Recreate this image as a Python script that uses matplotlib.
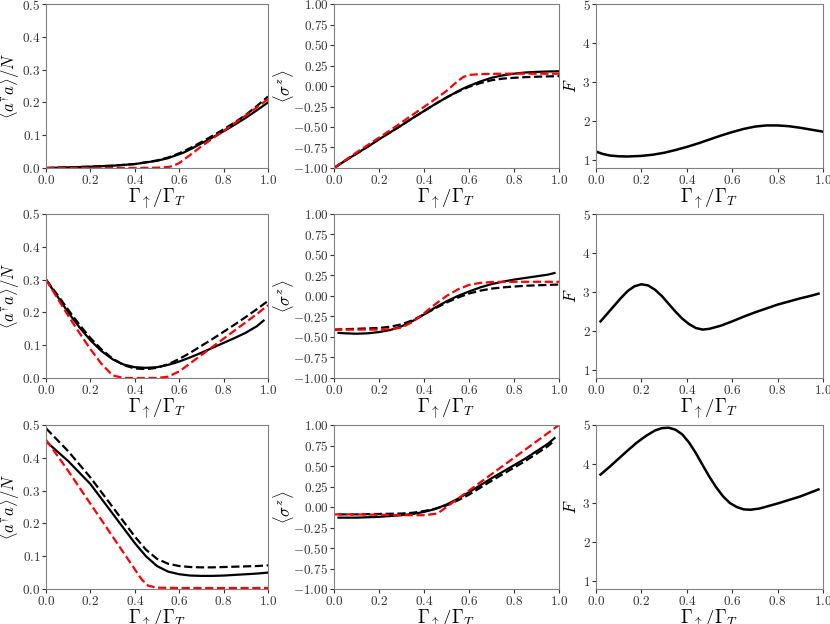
import matplotlib
matplotlib.use("Agg")
import matplotlib.pyplot as plt

plt.rcParams['mathtext.fontset'] = 'cm'
plt.rcParams['font.family'] = ['DejaVu Serif']

# ---- row 1 ----
x1_n = [0.0, 0.1, 0.2, 0.3, 0.4, 0.5, 0.55, 0.57, 0.6, 0.62, 0.65, 0.7, 0.75, 0.8, 0.85, 0.9, 0.95, 1.0]
n1_solid = [0.0, 0.002, 0.004, 0.007, 0.012, 0.022, 0.03, 0.035, 0.042, 0.047, 0.057, 0.075, 0.093, 0.112, 0.132, 0.153, 0.176, 0.2]
n1_dash = [0.0, 0.002, 0.004, 0.007, 0.012, 0.023, 0.032, 0.037, 0.045, 0.051, 0.061, 0.079, 0.098, 0.118, 0.139, 0.162, 0.189, 0.218]
n1_red = [0.0, 0.0, 0.0, 0.0, 0.0, 0.001, 0.003, 0.006, 0.015, 0.025, 0.04, 0.066, 0.09, 0.113, 0.137, 0.16, 0.185, 0.21]

x1_s = [0.0, 0.05, 0.1, 0.15, 0.2, 0.25, 0.3, 0.35, 0.4, 0.45, 0.5, 0.55, 0.575, 0.6, 0.65, 0.7, 0.75, 0.8, 0.85, 0.9, 0.95, 1.0]
s1_solid = [-1.0, -0.91, -0.825, -0.74, -0.65, -0.565, -0.48, -0.39, -0.305, -0.22, -0.14, -0.065, -0.03, 0.0, 0.055, 0.1, 0.13, 0.15, 0.165, 0.172, 0.177, 0.18]
s1_dash = [-1.0, -0.91, -0.825, -0.74, -0.65, -0.565, -0.48, -0.39, -0.305, -0.22, -0.14, -0.07, -0.04, -0.01, 0.035, 0.07, 0.09, 0.1, 0.108, 0.113, 0.117, 0.12]
s1_red = [-1.0, -0.905, -0.81, -0.72, -0.63, -0.54, -0.445, -0.35, -0.255, -0.16, -0.06, 0.06, 0.11, 0.135, 0.145, 0.148, 0.15, 0.15, 0.15, 0.15, 0.15, 0.15]

x1_f = [0.0, 0.03, 0.06, 0.1, 0.14, 0.2, 0.25, 0.3, 0.35, 0.4, 0.45, 0.5, 0.55, 0.6, 0.65, 0.7, 0.75, 0.8, 0.85, 0.9, 0.95, 1.0]
f1 = [1.22, 1.16, 1.12, 1.10, 1.095, 1.11, 1.14, 1.19, 1.26, 1.34, 1.43, 1.53, 1.63, 1.72, 1.80, 1.86, 1.89, 1.89, 1.87, 1.83, 1.78, 1.73]

# ---- row 2 ----
x2_n = [0.0, 0.05, 0.1, 0.15, 0.2, 0.25, 0.3, 0.35, 0.4, 0.45, 0.5, 0.55, 0.6, 0.65, 0.7, 0.75, 0.8, 0.85, 0.9, 0.95, 1.0]
x2_n_solid = [0.0, 0.05, 0.1, 0.15, 0.2, 0.25, 0.3, 0.35, 0.4, 0.45, 0.5, 0.55, 0.6, 0.65, 0.7, 0.75, 0.8, 0.85, 0.9, 0.95, 0.98]
n2_solid = [0.3, 0.25, 0.2, 0.155, 0.115, 0.082, 0.057, 0.041, 0.033, 0.031, 0.033, 0.04, 0.05, 0.063, 0.077, 0.092, 0.107, 0.122, 0.138, 0.158, 0.175]
n2_dash = [0.3, 0.255, 0.208, 0.163, 0.122, 0.087, 0.059, 0.039, 0.029, 0.027, 0.031, 0.042, 0.058, 0.077, 0.098, 0.119, 0.141, 0.163, 0.186, 0.21, 0.235]
n2_red = [0.3, 0.245, 0.19, 0.138, 0.088, 0.043, 0.008, 0.0, 0.0, 0.0, 0.0, 0.004, 0.02, 0.045, 0.07, 0.095, 0.12, 0.145, 0.17, 0.195, 0.222]

x2_s_solid = [0.02, 0.05, 0.1, 0.15, 0.2, 0.25, 0.3, 0.35, 0.4, 0.45, 0.5, 0.55, 0.6, 0.65, 0.7, 0.75, 0.8, 0.85, 0.9, 0.95, 0.98]
s2_solid = [-0.45, -0.455, -0.46, -0.455, -0.44, -0.415, -0.37, -0.305, -0.225, -0.14, -0.065, 0.0, 0.055, 0.105, 0.145, 0.175, 0.2, 0.22, 0.24, 0.26, 0.28]
x2_s = [0.0, 0.05, 0.1, 0.15, 0.2, 0.25, 0.3, 0.35, 0.4, 0.45, 0.5, 0.55, 0.6, 0.65, 0.7, 0.75, 0.8, 0.85, 0.9, 0.95, 1.0]
s2_dash = [-0.41, -0.405, -0.4, -0.395, -0.39, -0.375, -0.345, -0.295, -0.225, -0.15, -0.08, -0.02, 0.03, 0.065, 0.09, 0.105, 0.115, 0.125, 0.13, 0.135, 0.14]
s2_red = [-0.41, -0.41, -0.41, -0.41, -0.41, -0.405, -0.385, -0.315, -0.21, -0.1, 0.0, 0.08, 0.135, 0.16, 0.17, 0.172, 0.173, 0.173, 0.173, 0.173, 0.173]

x2_f = [0.02, 0.05, 0.08, 0.11, 0.14, 0.17, 0.2, 0.23, 0.26, 0.29, 0.32, 0.35, 0.38, 0.41, 0.44, 0.47, 0.5, 0.55, 0.6, 0.65, 0.7, 0.75, 0.8, 0.85, 0.9, 0.95, 0.98]
f2 = [2.25, 2.45, 2.65, 2.85, 3.03, 3.15, 3.2, 3.17, 3.06, 2.9, 2.7, 2.5, 2.32, 2.18, 2.08, 2.04, 2.06, 2.14, 2.25, 2.37, 2.48, 2.58, 2.68, 2.76, 2.84, 2.91, 2.96]

# ---- row 3 ----
x3_n = [0.0, 0.05, 0.1, 0.15, 0.2, 0.25, 0.3, 0.35, 0.4, 0.45, 0.5, 0.55, 0.6, 0.65, 0.7, 0.75, 0.8, 0.85, 0.9, 0.95, 1.0]
n3_solid = [0.45, 0.42, 0.39, 0.355, 0.32, 0.275, 0.23, 0.185, 0.14, 0.1, 0.07, 0.053, 0.045, 0.041, 0.04, 0.04, 0.041, 0.043, 0.045, 0.047, 0.05]
n3_dash = [0.49, 0.455, 0.42, 0.38, 0.34, 0.295, 0.25, 0.205, 0.16, 0.12, 0.092, 0.077, 0.07, 0.067, 0.066, 0.066, 0.067, 0.068, 0.069, 0.07, 0.072]
x3_r_n = [0.0, 0.05, 0.1, 0.15, 0.2, 0.25, 0.3, 0.35, 0.4, 0.43, 0.46, 0.5, 0.6, 0.7, 0.8, 0.9, 1.0]
n3_red = [0.455, 0.408, 0.36, 0.31, 0.26, 0.21, 0.16, 0.11, 0.06, 0.03, 0.01, 0.004, 0.003, 0.003, 0.003, 0.003, 0.003]

x3_s = [0.02, 0.1, 0.2, 0.3, 0.35, 0.4, 0.45, 0.5, 0.55, 0.6, 0.65, 0.7, 0.75, 0.8, 0.85, 0.9, 0.95, 0.98]
s3_solid = [-0.13, -0.13, -0.12, -0.1, -0.085, -0.06, -0.025, 0.03, 0.1, 0.18, 0.265, 0.35, 0.43, 0.51, 0.59, 0.68, 0.77, 0.84]
s3_dash = [-0.09, -0.09, -0.085, -0.08, -0.07, -0.05, -0.02, 0.02, 0.08, 0.15, 0.235, 0.32, 0.4, 0.48, 0.56, 0.65, 0.74, 0.81]
x3_r = [0.0, 0.1, 0.2, 0.3, 0.4, 0.46, 0.5, 0.6, 0.7, 0.8, 0.9, 1.0]
s3_red = [-0.09, -0.09, -0.095, -0.1, -0.1, -0.08, 0.0, 0.2, 0.4, 0.6, 0.8, 1.0]

x3_f = [0.02, 0.06, 0.1, 0.14, 0.18, 0.22, 0.26, 0.29, 0.32, 0.35, 0.38, 0.41, 0.44, 0.47, 0.5, 0.53, 0.56, 0.59, 0.62, 0.65, 0.68, 0.72, 0.8, 0.9, 0.98]
f3 = [3.73, 3.93, 4.14, 4.35, 4.55, 4.72, 4.86, 4.92, 4.93, 4.88, 4.76, 4.55, 4.28, 3.97, 3.67, 3.4, 3.17, 3.0, 2.9, 2.84, 2.83, 2.86, 2.99, 3.17, 3.35]

xlab = r'$\Gamma_{\uparrow}/\Gamma_T$'
nlab = r'$\langle a^{\dagger}a\rangle/N$'
slab = r'$\langle\sigma^z\rangle$'
flab = r'$F$'

fig = plt.figure(figsize=(8.3, 6.24), dpi=100)
W, H = 830.0, 624.0
cols = [(46, 268), (334, 559), (596, 823)]
rows = [(4, 168), (214, 378), (425, 589)]
axes = [[fig.add_axes([c[0] / W, 1 - r[1] / H, (c[1] - c[0]) / W, (r[1] - r[0]) / H])
         for c in cols] for r in rows]


def style(ax, ylab, ylim, yticks, fmt, labx):
    ax.set_xlim(0, 1)
    ax.set_ylim(*ylim)
    ax.set_xticks([0, 0.2, 0.4, 0.6, 0.8, 1.0])
    ax.set_xticklabels(['$%s$' % t for t in ['0.0', '0.2', '0.4', '0.6', '0.8', '1.0']])
    ax.set_yticks(yticks)
    ax.set_yticklabels(['$%s$' % fmt.format(t) for t in yticks])
    ax.set_xlabel(xlab, fontsize=13.5, labelpad=0)
    ax.set_ylabel(ylab, fontsize=12)
    ax.yaxis.set_label_coords(labx, 0.5)
    for s in ax.spines.values():
        s.set_color('#808080')
    ax.tick_params(colors='#333333', labelsize=9.5, length=3, pad=1)


lw = 1.6
# a†a panels
ax = axes[0][0]
ax.plot(x1_n, n1_solid, color='k', lw=lw)
ax.plot(x1_n, n1_dash, color='k', lw=lw, ls='--')
ax.plot(x1_n, n1_red, color='r', lw=lw, ls='--')

ax = axes[1][0]
ax.plot(x2_n_solid, n2_solid, color='k', lw=lw)
ax.plot(x2_n, n2_dash, color='k', lw=lw, ls='--')
ax.plot(x2_n, n2_red, color='r', lw=lw, ls='--')

ax = axes[2][0]
ax.plot(x3_n, n3_solid, color='k', lw=lw)
ax.plot(x3_n, n3_dash, color='k', lw=lw, ls='--')
ax.plot(x3_r_n, n3_red, color='r', lw=lw, ls='--')

for r in range(3):
    style(axes[r][0], nlab, (0, 0.5), [0, 0.1, 0.2, 0.3, 0.4, 0.5], '{:.1f}', -0.11)

# sigma_z panels
ax = axes[0][1]
ax.plot(x1_s, s1_solid, color='k', lw=lw)
ax.plot(x1_s, s1_dash, color='k', lw=lw, ls='--')
ax.plot(x1_s, s1_red, color='r', lw=lw, ls='--')

ax = axes[1][1]
ax.plot(x2_s_solid, s2_solid, color='k', lw=lw)
ax.plot(x2_s, s2_dash, color='k', lw=lw, ls='--')
ax.plot(x2_s, s2_red, color='r', lw=lw, ls='--')

ax = axes[2][1]
ax.plot(x3_s, s3_solid, color='k', lw=lw)
ax.plot(x3_s, s3_dash, color='k', lw=lw, ls='--')
ax.plot(x3_r, s3_red, color='r', lw=lw, ls='--')

for r in range(3):
    style(axes[r][1], slab, (-1, 1), [-1, -0.75, -0.5, -0.25, 0, 0.25, 0.5, 0.75, 1.0], '{:.2f}', -0.17)

# Fano panels
for ax, x, f in [(axes[0][2], x1_f, f1), (axes[1][2], x2_f, f2), (axes[2][2], x3_f, f3)]:
    ax.plot(x, f, color='k', lw=1.8)
    style(ax, flab, (0.8, 5), [1, 2, 3, 4, 5], '{:d}', -0.07)

fig.savefig('out.png', dpi=100)
